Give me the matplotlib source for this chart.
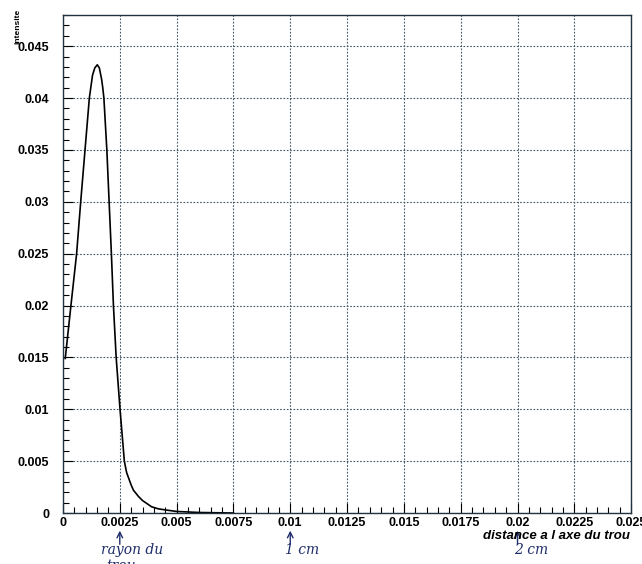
import matplotlib
matplotlib.use('Agg')
import matplotlib.pyplot as plt
from matplotlib.ticker import MultipleLocator

# Values
distance = [0.0001, 0.00035, 0.0006, 0.00078, 0.00097, 0.00116, 0.0013, 0.0014,
            0.00151, 0.0016, 0.0017, 0.00175, 0.0018, 0.00193, 0.00203, 0.00213,
            0.00222, 0.00234, 0.00251, 0.0027, 0.0028, 0.003, 0.0031, 0.00332,
            0.0035, 0.0039, 0.0042, 0.0045, 0.005, 0.006, 0.0075]
intensite = [0.0149, 0.020, 0.025, 0.030, 0.035, 0.040, 0.0422, 0.0429,
             0.0432, 0.0429, 0.0418, 0.041, 0.040, 0.035, 0.030, 0.025,
             0.020, 0.015, 0.010, 0.005, 0.0039, 0.0027, 0.0022, 0.0016,
             0.0012, 0.0006, 0.0004, 0.0003, 0.00015, 0.00005, 0.0]

x_ticks = [0, 0.0025, 0.005, 0.0075, 0.01, 0.0125, 0.015, 0.0175, 0.02, 0.0225, 0.025]
x_labels = ['0', '0.0025', '0.005', '0.0075', '0.01', '0.0125', '0.015', '0.0175',
            '0.02', '0.0225', '0.025']
y_ticks = [0, 0.005, 0.01, 0.015, 0.02, 0.025, 0.03, 0.035, 0.04, 0.045]
y_labels = ['0', '0.005', '0.01', '0.015', '0.02', '0.025', '0.03', '0.035', '0.04', '0.045']

# handwritten notes under the x axis
notes = ['rayon du', '1 cm', '2 cm']
note_x = [0.0025, 0.01, 0.02]
note_dx = [-0.03, -0.008, -0.006]

ink = '#1f2d6b'
font = 'Liberation Sans'

fig = plt.figure(figsize=(6.42, 5.64), dpi=100)
ax = fig.add_axes([0.0981, 0.0904, 0.885, 0.883])

ax.plot(distance, intensite, color='black', lw=1.2)

ax.set_xlim(0, 0.025)
ax.set_ylim(0, 0.048)
ax.set_xticks(x_ticks)
ax.set_xticklabels(x_labels, fontsize=9, fontweight='bold', family=font)
ax.set_yticks(y_ticks)
ax.set_yticklabels(y_labels, fontsize=9, fontweight='bold', family=font)
ax.xaxis.set_minor_locator(MultipleLocator(0.0005))
ax.yaxis.set_minor_locator(MultipleLocator(0.001))
ax.tick_params(which='major', direction='in', length=7, width=0.8)
ax.tick_params(axis='x', which='major', pad=3)
ax.tick_params(axis='y', which='major', pad=10)
ax.tick_params(which='minor', direction='in', length=4, width=0.8)
ax.grid(True, which='major', linestyle=(0, (1.5, 1.5)), color='#445566', lw=0.8)
for s in ax.spines.values():
    s.set_linewidth(1.0)
    s.set_color('#223344')

fig.text(0.028, 0.985, 'intensite', rotation=90, va='top', ha='center',
         fontsize=6, fontweight='bold', family=font)
fig.text(0.982, 0.05, 'distance a l axe du trou', ha='right', va='center',
         fontsize=9.5, fontweight='bold', style='italic', family=font)

# arrows and notes in figure coordinates derived from the data positions
for txt, xv, dx in zip(notes, note_x, note_dx):
    xd = ax.transData.transform((xv, 0))[0]
    xf = fig.transFigure.inverted().transform((xd, 0))[0]
    ax.annotate('', xy=(xf, 0.064), xytext=(xf, 0.03), xycoords='figure fraction',
                textcoords='figure fraction',
                arrowprops=dict(arrowstyle='->', color=ink, lw=1.0))
    fig.text(xf + dx, 0.024, txt, ha='left', va='center', fontsize=10,
             style='italic', color=ink, family='DejaVu Serif')
fig.text(0.165, -0.004, 'trou', ha='left', va='center', fontsize=10,
         style='italic', color=ink, family='DejaVu Serif')

fig.savefig('out.png', dpi=100)
